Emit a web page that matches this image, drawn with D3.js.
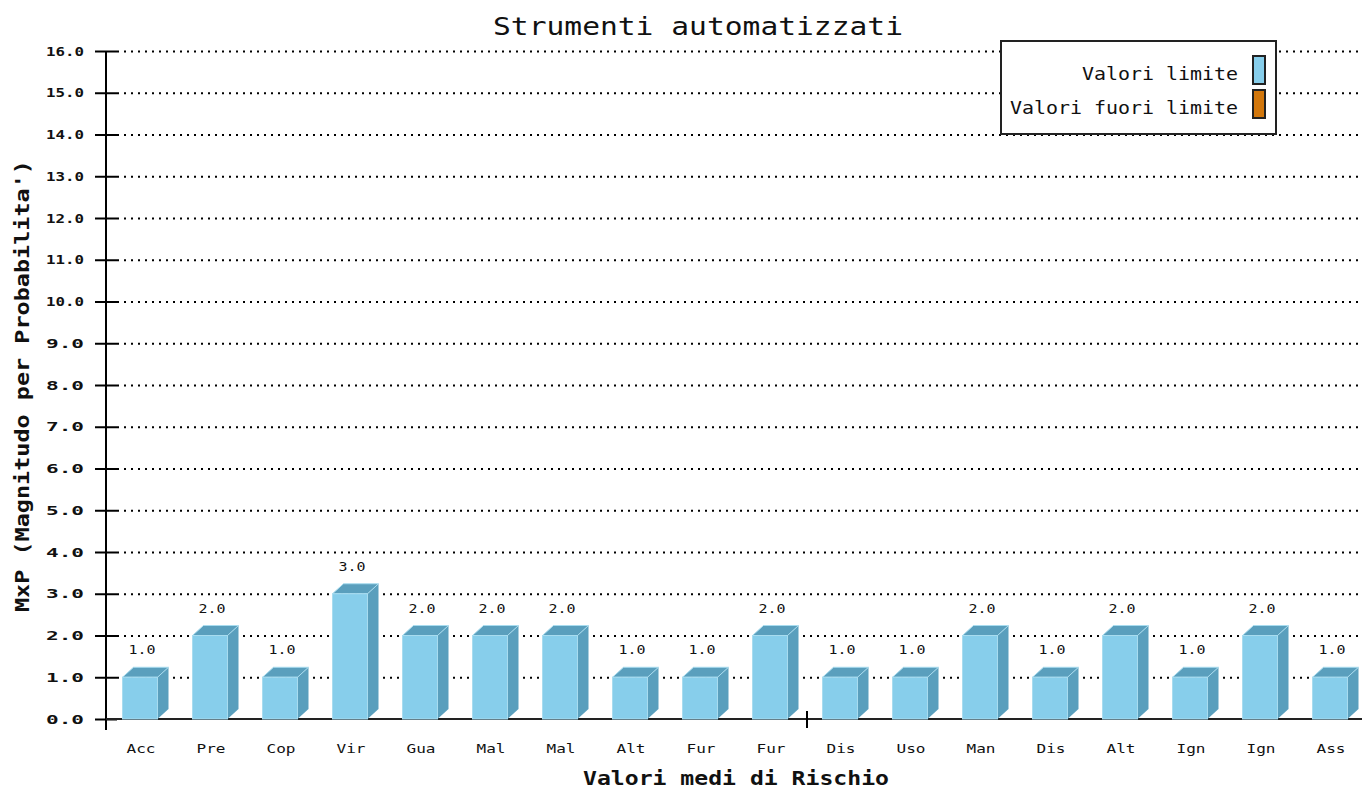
<!DOCTYPE html>
<html>
<head>
<meta charset="utf-8">
<script src="https://cdn.jsdelivr.net/npm/d3@7"></script>
<style>
  body { margin: 0; background: #fff; }
  text { font-family: "DejaVu Sans Mono", "Liberation Mono", monospace; fill: #111; }
</style>
</head>
<body>
<script>
const w = 1362;
const h = 789;

// data
const categories = ["Acc", "Pre", "Cop", "Vir", "Gua", "Mal", "Mal", "Alt", "Fur",
                    "Fur", "Dis", "Uso", "Man", "Dis", "Alt", "Ign", "Ign", "Ass"];
const values = [1, 2, 1, 3, 2, 2, 2, 1, 1, 2, 1, 1, 2, 1, 2, 1, 2, 1];
const yTicks = d3.range(0, 17, 1);
const legendLabels = ["Valori limite", "Valori fuori limite"];
const legendColors = ["#87ceeb", "#d2770c"];

const depthX = 11, depthY = 10;

let svg = d3.select("body")
            .append("svg")
                .attr("width", w)
                .attr("height", h);

let x = d3.scaleBand()
    .domain(d3.range(categories.length))
    .range([105, 1365])
    .paddingInner(0.5)
    .paddingOuter(0.25);

let y = d3.scaleLinear()
    .domain([0, 16])
    .range([719, 51]);

// grid lines
svg.append("g")
    .selectAll("line")
    .data(yTicks.filter(d => d > 0))
    .enter()
    .append("line")
    .attr("x1", 117)
    .attr("x2", w)
    .attr("y1", d => y(d) + 0.5)
    .attr("y2", d => y(d) + 0.5)
    .attr("stroke", "#000")
    .attr("stroke-width", 2)
    .attr("stroke-dasharray", "2,5");

// y axis
let yAxis = svg.append("g")
    .attr("transform", "translate(106,0)")
    .call(d3.axisLeft(y).tickValues(yTicks).tickFormat(d3.format(".1f")).tickSizeOuter(0));
yAxis.select(".domain").remove();
yAxis.selectAll(".tick line")
    .attr("x1", -11).attr("x2", 11)
    .attr("stroke", "#000").attr("stroke-width", 2);
yAxis.selectAll(".tick text")
    .attr("x", -22)
    .attr("font-size", 13)
    .attr("font-weight", "bold")
    .attr("textLength", 38)
    .attr("lengthAdjust", "spacingAndGlyphs")
    .style("font-family", "'DejaVu Sans Mono', monospace");
svg.append("line")
    .attr("x1", 106).attr("x2", 106)
    .attr("y1", y(16)).attr("y2", y(0) + 11)
    .attr("stroke", "#000").attr("stroke-width", 2);

// x baseline
svg.append("line")
    .attr("x1", 106).attr("x2", w)
    .attr("y1", y(0)).attr("y2", y(0))
    .attr("stroke", "#222").attr("stroke-width", 2);
let midTick = x.range()[0] + x.step() * 10 + 2;
svg.append("line")
    .attr("x1", midTick).attr("x2", midTick)
    .attr("y1", y(0) - 8).attr("y2", y(0) + 9)
    .attr("stroke", "#000").attr("stroke-width", 2);

// bars
let bars = svg.append("g")
    .selectAll("g")
    .data(values)
    .enter()
    .append("g");

bars.append("path")
    .attr("d", (d, i) => {
        let x0 = x(i) + x.bandwidth(), y0 = y(d), y1 = y(0);
        return `M${x0},${y0}L${x0 + depthX},${y0 - depthY}L${x0 + depthX},${y1 - depthY}L${x0},${y1}Z`;
    })
    .attr("fill", "#5a9fbd");

bars.append("path")
    .attr("d", (d, i) => {
        let x0 = x(i), x1 = x(i) + x.bandwidth(), y0 = y(d);
        return `M${x0},${y0}L${x0 + depthX},${y0 - depthY}L${x1 + depthX},${y0 - depthY}L${x1},${y0}Z`;
    })
    .attr("fill", "#5a9fbd")
    .attr("stroke", "#a8dcef")
    .attr("stroke-width", 1);

bars.append("rect")
    .attr("x", (d, i) => x(i))
    .attr("y", d => y(d))
    .attr("width", x.bandwidth())
    .attr("height", d => y(0) - y(d))
    .attr("fill", "#87ceeb")
    .attr("stroke", "#a8dcef")
    .attr("stroke-width", 1);

bars.append("text")
    .attr("x", (d, i) => x(i) + x.bandwidth() / 2 + 2)
    .attr("y", d => y(d) - 23)
    .attr("text-anchor", "middle")
    .attr("font-size", 12)
    .attr("textLength", 27)
    .attr("lengthAdjust", "spacingAndGlyphs")
    .text(d => d.toFixed(1));

// category labels
svg.append("g")
    .selectAll("text")
    .data(categories)
    .enter()
    .append("text")
    .attr("x", (d, i) => x(i) + x.bandwidth() / 2 + 1)
    .attr("y", 753)
    .attr("text-anchor", "middle")
    .attr("font-size", 12)
    .attr("textLength", 29)
    .attr("lengthAdjust", "spacingAndGlyphs")
    .text(d => d);

// titles
svg.append("text")
    .attr("x", 698)
    .attr("y", 35)
    .attr("text-anchor", "middle")
    .attr("font-size", 24)
    .attr("textLength", 410)
    .attr("lengthAdjust", "spacingAndGlyphs")
    .text("Strumenti automatizzati");

svg.append("text")
    .attr("x", 736)
    .attr("y", 785)
    .attr("text-anchor", "middle")
    .attr("font-size", 19)
    .attr("font-weight", "bold")
    .attr("textLength", 306)
    .attr("lengthAdjust", "spacingAndGlyphs")
    .text("Valori medi di Rischio");

svg.append("text")
    .attr("transform", "translate(29,386) rotate(-90)")
    .attr("text-anchor", "middle")
    .attr("font-size", 19)
    .attr("font-weight", "bold")
    .attr("textLength", 452)
    .attr("lengthAdjust", "spacingAndGlyphs")
    .text("MxP (Magnitudo per Probabilita')");

// legend
let legend = svg.append("g");
legend.append("rect")
    .attr("x", 1001).attr("y", 41)
    .attr("width", 275).attr("height", 93)
    .attr("fill", "#fff")
    .attr("stroke", "#222").attr("stroke-width", 2);

let items = legend.selectAll("g")
    .data(legendLabels)
    .enter()
    .append("g")
    .attr("transform", (d, i) => "translate(0," + (i * 34) + ")");

items.append("rect")
    .attr("x", 1253).attr("y", 56)
    .attr("width", 12).attr("height", 28)
    .attr("fill", (d, i) => legendColors[i])
    .attr("stroke", "#222").attr("stroke-width", 2);

items.append("text")
    .attr("x", 1238).attr("y", 80)
    .attr("text-anchor", "end")
    .attr("font-size", 17)
    .attr("textLength", d => d.length * 12)
    .attr("lengthAdjust", "spacingAndGlyphs")
    .text(d => d);
</script>
</body>
</html>
